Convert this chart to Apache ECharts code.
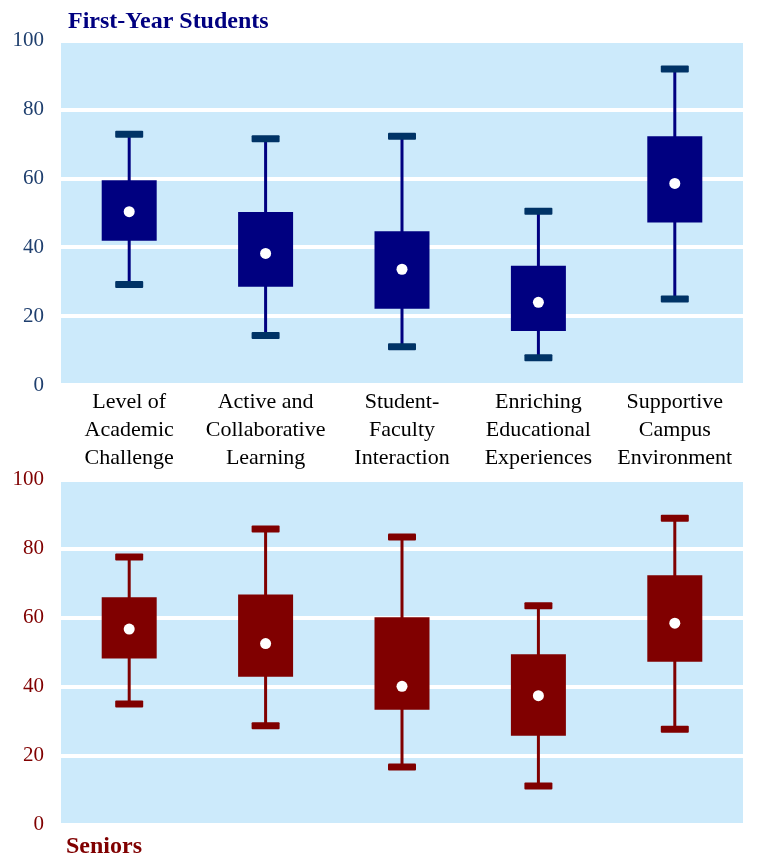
<!DOCTYPE html>
<html>
<head>
<meta charset="utf-8">
<script src="https://cdn.jsdelivr.net/npm/echarts@6/dist/echarts.min.js"></script>
<style>
html,body{margin:0;padding:0;background:#fff;}
#c{width:757px;height:854px;}
</style>
</head>
<body>
<div id="c"></div>
<script>
var categories = ['Level of\nAcademic\nChallenge', 'Active and\nCollaborative\nLearning', 'Student-\nFaculty\nInteraction', 'Enriching\nEducational\nExperiences', 'Supportive\nCampus\nEnvironment'];
var yTicks = [0, 20, 40, 60, 80, 100];

var fyLow  = [29.2, 14.4, 11.1, 7.9, 25.0];
var fyQ1   = [41.9, 28.5, 22.1, 15.7, 47.2];
var fyMid  = [50.3, 38.2, 33.6, 24.0, 58.5];
var fyQ3   = [59.4, 50.2, 44.6, 34.6, 72.2];
var fyHigh = [72.8, 71.5, 72.2, 50.4, 91.7];

var srLow  = [35.0, 28.7, 16.7, 11.2, 27.7];
var srQ1   = [48.2, 42.9, 33.3, 25.8, 47.2];
var srMid  = [56.7, 52.5, 40.1, 37.4, 58.4];
var srQ3   = [65.9, 66.7, 60.1, 49.4, 72.3];
var srHigh = [77.6, 85.7, 83.4, 63.5, 88.8];

function build(low, q1, mid, q3, high) {
  return categories.map(function (c, i) { return [i, low[i], q1[i], mid[i], q3[i], high[i]]; });
}

function makeRender(boxColor, whiskerColor, capColor) {
  return function (params, api) {
    var i = api.value(0);
    var pLow = api.coord([i, api.value(1)]);
    var pQ1 = api.coord([i, api.value(2)]);
    var pMid = api.coord([i, api.value(3)]);
    var pQ3 = api.coord([i, api.value(4)]);
    var pHigh = api.coord([i, api.value(5)]);
    var x = pLow[0];
    var bw = 55, cw = 28, ch = 7;
    return {
      type: 'group',
      children: [
        { type: 'line', shape: { x1: x, y1: pLow[1], x2: x, y2: pHigh[1] }, style: { stroke: whiskerColor, lineWidth: 3 } },
        { type: 'rect', shape: { x: x - cw / 2, y: pHigh[1] - ch / 2, width: cw, height: ch, r: 1 }, style: { fill: capColor } },
        { type: 'rect', shape: { x: x - cw / 2, y: pLow[1] - ch / 2, width: cw, height: ch, r: 1 }, style: { fill: capColor } },
        { type: 'rect', shape: { x: x - bw / 2, y: pQ3[1], width: bw, height: pQ1[1] - pQ3[1] }, style: { fill: boxColor } },
        { type: 'circle', shape: { cx: x, cy: pMid[1], r: 5.5 }, style: { fill: '#ffffff' } }
      ]
    };
  };
}

var font = 'Liberation Serif';
var bg = '#cceafb';

function yAxis(idx, color) {
  return {
    type: 'value', gridIndex: idx, min: yTicks[0], max: yTicks[yTicks.length - 1], interval: 20,
    axisLine: { show: false }, axisTick: { show: false },
    axisLabel: { color: color, fontFamily: font, fontSize: 21, margin: 17 },
    splitLine: { show: true, lineStyle: { color: '#ffffff', width: 4 } }
  };
}

var chart = echarts.init(document.getElementById('c'), null, { renderer: 'canvas' });
chart.setOption({
  backgroundColor: '#ffffff',
  animation: false,
  title: [
    { text: 'First-Year Students', left: 68, top: 9, padding: 0, textStyle: { color: '#000080', fontFamily: font, fontWeight: 'bold', fontSize: 24, lineHeight: 26 } },
    { text: 'Seniors', left: 66, top: 834, padding: 0, textStyle: { color: '#800000', fontFamily: font, fontWeight: 'bold', fontSize: 24, lineHeight: 26 } }
  ],
  grid: [
    { left: 61, right: 14, top: 40.5, height: 344.5, show: true, backgroundColor: bg, borderWidth: 0 },
    { left: 61, right: 14, top: 479.7, height: 345, show: true, backgroundColor: bg, borderWidth: 0 }
  ],
  xAxis: [
    { type: 'category', gridIndex: 0, data: categories, boundaryGap: true,
      axisLine: { show: false }, axisTick: { show: false }, splitLine: { show: false },
      axisLabel: { color: '#000000', fontFamily: font, fontSize: 22, lineHeight: 28, margin: 3, interval: 0 } },
    { type: 'category', gridIndex: 1, data: categories, boundaryGap: true,
      axisLine: { show: false }, axisTick: { show: false }, splitLine: { show: false },
      axisLabel: { show: false } }
  ],
  yAxis: [yAxis(0, '#1f3f6e'), yAxis(1, '#800000')],
  series: [
    { type: 'custom', xAxisIndex: 0, yAxisIndex: 0, data: build(fyLow, fyQ1, fyMid, fyQ3, fyHigh),
      encode: { x: 0, y: [1, 2, 3, 4, 5] }, renderItem: makeRender('#000080', '#000080', '#003366') },
    { type: 'custom', xAxisIndex: 1, yAxisIndex: 1, data: build(srLow, srQ1, srMid, srQ3, srHigh),
      encode: { x: 0, y: [1, 2, 3, 4, 5] }, renderItem: makeRender('#800000', '#800000', '#800000') }
  ]
});
</script>
</body>
</html>
